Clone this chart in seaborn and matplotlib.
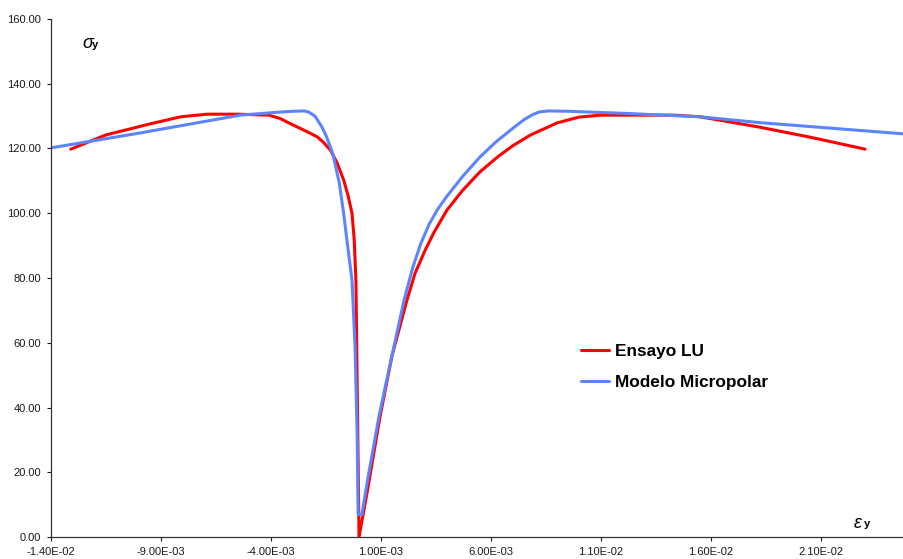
import numpy as np
import pandas as pd
import matplotlib
matplotlib.use('Agg')
import matplotlib.pyplot as plt
import seaborn as sns

# Ensayo LU (red)
ensayo_eps = [-0.0131, -0.0115, -0.0095, -0.0081, -0.0069, -0.0055, -0.0041, -0.0036, -0.0031,
              -0.0027, -0.0023, -0.0019, -0.0016, -0.0013, -0.0010, -0.0007, -0.0005, -0.00032,
              -0.00022, -0.00014, 0.0,
              0.0004, 0.00095, 0.0015, 0.00218, 0.00255, 0.0030, 0.0034, 0.0040, 0.0047, 0.0055,
              0.0063, 0.0070, 0.0078, 0.0090, 0.0100, 0.0110, 0.0143, 0.0155, 0.0182, 0.0205, 0.0230]
ensayo_sig = [119.8, 124.2, 127.6, 129.8, 130.6, 130.6, 130.3, 129.3, 127.6,
              126.3, 125.0, 123.6, 121.8, 119.5, 115.6, 110.3, 105.5, 100.0,
              92.0, 79.0, 0.0,
              15.0, 37.0, 56.0, 73.2, 81.5, 88.5, 94.0, 101.0, 107.0, 112.8,
              117.4, 120.9, 124.2, 127.9, 129.7, 130.3, 130.3, 129.8, 126.6, 123.5, 119.8]

# Modelo Micropolar (blue)
modelo_eps = [-0.0140, -0.00995, -0.0054, -0.0035, -0.0030, -0.0025, -0.0023, -0.0020, -0.0017,
              -0.0015, -0.0012, -0.0009, -0.0007, -0.0005, -0.00032, -0.00018, -0.00008, -0.00004,
              0.00013, 0.0004, 0.0009, 0.0014, 0.00205, 0.00245, 0.0028, 0.0032, 0.0036, 0.0040,
              0.0047, 0.0055, 0.0062, 0.0070, 0.0075, 0.0079, 0.0082, 0.0086, 0.0095, 0.0119,
              0.0155, 0.0182, 0.0248]
modelo_sig = [120.2, 124.8, 130.3, 131.3, 131.5, 131.6, 131.3, 130.0, 126.8,
              124.0, 118.6, 109.5, 100.0, 89.0, 79.4, 58.7, 30.0, 7.0,
              7.0, 18.0, 37.0, 53.0, 73.2, 83.4, 90.5, 96.8, 101.5, 105.3,
              111.3, 117.4, 121.9, 126.3, 128.9, 130.5, 131.3, 131.6, 131.5, 130.9,
              129.8, 128.0, 124.5]

x_ticks = [-0.014, -0.009, -0.004, 0.001, 0.006, 0.011, 0.016, 0.021]
y_ticks = [0, 20, 40, 60, 80, 100, 120, 140, 160]

sns.set_style('ticks')
plt.rcParams['font.family'] = ['Liberation Sans', 'DejaVu Sans']

fig = plt.figure(figsize=(9.04, 5.59), dpi=100)
ax = fig.add_axes([51 / 904, 1 - 537 / 559, 1 - 51 / 904, (537 - 19) / 559])

df_e = pd.DataFrame({'eps': ensayo_eps, 'sig': ensayo_sig})
df_m = pd.DataFrame({'eps': modelo_eps, 'sig': modelo_sig})
sns.lineplot(data=df_e, x='eps', y='sig', sort=False, estimator=None, color='#FF0000',
             lw=2.2, ax=ax, label='Ensayo LU')
sns.lineplot(data=df_m, x='eps', y='sig', sort=False, estimator=None, color='#5C84FF',
             lw=2.2, ax=ax, label='Modelo Micropolar')

ax.set_xlim(-0.014, 0.02477)
ax.set_ylim(0, 160)
ax.set_xticks(x_ticks)
ax.set_xticklabels([f'{v:.2E}' for v in x_ticks])
ax.set_yticks(y_ticks)
ax.set_yticklabels([f'{v:.2f}' for v in y_ticks])
ax.tick_params(labelsize=8, length=3, width=0.8, colors='#1a1a1a', pad=4)
ax.set_xlabel('')
ax.set_ylabel('')
for s in ['top', 'right']:
    ax.spines[s].set_visible(False)
for s in ['left', 'bottom']:
    ax.spines[s].set_color('#333333')
    ax.spines[s].set_linewidth(0.9)

leg = ax.legend(loc='upper left', bbox_to_anchor=(581 / 904, 1 - 344 / 559), bbox_transform=fig.transFigure,
                frameon=False, borderpad=0, borderaxespad=0, handlelength=1.6, handletextpad=0.35,
                labelspacing=0.9, prop={'weight': 'bold', 'size': 12.4})
for t in leg.get_texts():
    t.set_color('black')

fig.text(82 / 904, 1 - 43 / 559, 'σ', fontsize=13, style='italic', va='center', color='black')
fig.text(92 / 904, 1 - 45 / 559, 'y', fontsize=8, weight='bold', va='center', color='black')
fig.text(854 / 904, 1 - 523 / 559, 'ε', fontsize=13, style='italic', va='center', color='black')
fig.text(864 / 904, 1 - 524 / 559, 'y', fontsize=8, weight='bold', va='center', color='black')

fig.savefig('out.png', dpi=100)
